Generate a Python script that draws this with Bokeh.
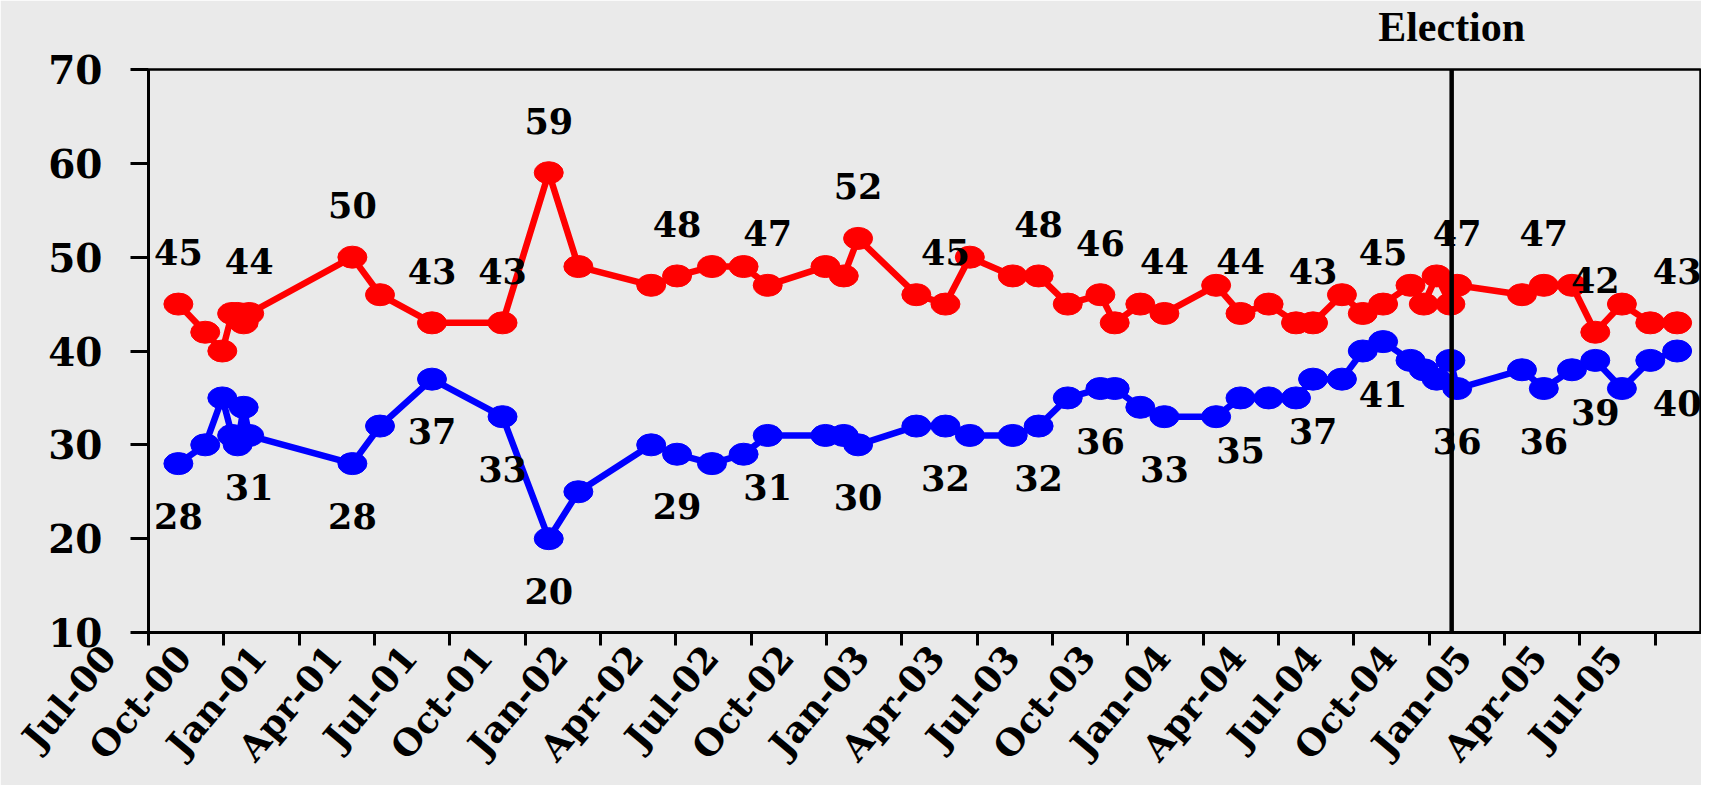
from bokeh.plotting import figure
from bokeh.models import Range1d, FixedTicker, Span, LinearAxis
from bokeh.core.properties import value
from bokeh.embed import file_html
from bokeh.resources import INLINE

# x values: months elapsed since 1 July 2000
months = [1.19, 2.26, 2.94, 3.33, 3.55, 3.79, 4.01, 8.12, 9.22, 11.29, 14.10, 15.94,
          17.12, 20.02, 21.05, 22.44, 23.70, 24.66, 26.96, 27.69, 28.26, 30.58, 31.74,
          32.71, 34.42, 35.45, 36.61, 37.91, 38.48, 39.50, 40.46, 42.52, 43.49, 44.61,
          45.70, 46.38, 47.53, 48.36, 49.17, 50.26, 50.79, 51.30, 51.85, 52.12, 54.70,
          55.57, 56.69, 57.62, 58.68, 59.81, 60.88]
red_values = [45, 42, 40, 44, 44, 43, 44, 50, 46, 43, 43, 59, 49, 47, 48, 49, 49, 47, 49,
              48, 52, 46, 45, 50, 48, 48, 45, 46, 43, 45, 44, 47, 44, 45, 43, 43, 46, 44,
              45, 47, 45, 48, 45, 47, 46, 47, 47, 42, 45, 43, 43]
blue_values = [28, 30, 35, 31, 30, 34, 31, 28, 32, 37, 33, 20, 25, 30, 29, 28, 29, 31, 31,
               31, 30, 32, 32, 31, 31, 32, 35, 36, 36, 34, 33, 33, 35, 35, 35, 37, 37, 40,
               41, 39, 38, 37, 39, 36, 38, 36, 38, 39, 36, 39, 40]
labelled_points = [0, 6, 7, 9, 10, 11, 14, 17, 20, 22, 25, 27, 30, 32, 35, 38, 43, 45, 47, 50]

tick_months = list(range(0, 61, 3))
tick_labels = ["Jul-00", "Oct-00", "Jan-01", "Apr-01", "Jul-01", "Oct-01", "Jan-02",
               "Apr-02", "Jul-02", "Oct-02", "Jan-03", "Apr-03", "Jul-03", "Oct-03",
               "Jan-04", "Apr-04", "Jul-04", "Oct-04", "Jan-05", "Apr-05", "Jul-05"]
y_ticks = [10, 20, 30, 40, 50, 60, 70]
election_month = 51.9
election_text = "Election"

BG = "#EAEAEA"
RED = "#FF0000"
BLUE = "#0000FF"
NUM_FONT = value("DejaVu Serif")
PAD = "\u00a0" * 5   # pushes the rotated tick labels down-left of their ticks

p = figure(width=1701, height=785, x_range=Range1d(0, 61.85), y_range=Range1d(10, 70),
           output_backend="svg", toolbar_location=None,
           min_border_left=148, min_border_right=0, min_border_top=68, min_border_bottom=152,
           background_fill_color=BG, border_fill_color=BG,
           outline_line_color="black", outline_line_width=2.5)
p.xgrid.visible = False
p.ygrid.visible = False

xa = p.below[0]
xa.ticker = FixedTicker(ticks=tick_months)
xa.major_label_overrides = {m: lab + PAD for m, lab in zip(tick_months, tick_labels)}
xa.major_label_orientation = 0.87
xa.major_label_standoff = -43
xa.major_label_text_font = "DejaVu Serif"
xa.major_label_text_font_style = "bold"
xa.major_label_text_font_size = "36px"
xa.major_label_text_color = "black"
xa.major_tick_out = 13
xa.major_tick_in = 0
xa.minor_tick_out = 0
xa.minor_tick_in = 0
xa.major_tick_line_width = 3
xa.axis_line_width = 3
xa.major_tick_line_color = "black"
xa.axis_line_color = "black"

ya = p.left[0]
ya.ticker = FixedTicker(ticks=y_ticks)
ya.major_tick_out = 18
ya.major_tick_in = 0
ya.minor_tick_out = 0
ya.minor_tick_in = 0
ya.major_tick_line_width = 3
ya.axis_line_width = 3
ya.major_tick_line_color = "black"
ya.axis_line_color = "black"
ya.major_label_standoff = 28
ya.major_label_text_font = "DejaVu Serif"
ya.major_label_text_font_style = "bold"
ya.major_label_text_font_size = "39px"
ya.major_label_text_color = "black"

# "Election" heading: a label-only axis above the frame, with one tick at the election
top_axis = LinearAxis(ticker=FixedTicker(ticks=[election_month]),
                      major_label_overrides={election_month: election_text},
                      axis_line_color=None, major_tick_line_color=None, minor_tick_line_color=None,
                      major_tick_out=0, major_tick_in=0, minor_tick_out=0, minor_tick_in=0,
                      major_label_standoff=20, major_label_text_font="Liberation Serif",
                      major_label_text_font_style="bold", major_label_text_font_size="42px",
                      major_label_text_color="black")
p.add_layout(top_axis, "above")

# series
p.line(months, red_values, line_color=RED, line_width=6.5)
p.ellipse(months, red_values, width=29, height=22, width_units="screen", height_units="screen",
          fill_color=RED, line_color=RED)
p.line(months, blue_values, line_color=BLUE, line_width=6.5)
p.ellipse(months, blue_values, width=29, height=22, width_units="screen", height_units="screen",
          fill_color=BLUE, line_color=BLUE)

# data labels
lx = [months[i] for i in labelled_points]
p.text(lx, [red_values[i] for i in labelled_points], text=[str(red_values[i]) for i in labelled_points],
       y_offset=-52, text_align="center", text_baseline="middle", text_font=NUM_FONT,
       text_font_style="bold", text_font_size="35px", text_color="black")
p.text(lx, [blue_values[i] for i in labelled_points], text=[str(blue_values[i]) for i in labelled_points],
       y_offset=52, text_align="center", text_baseline="middle", text_font=NUM_FONT,
       text_font_style="bold", text_font_size="35px", text_color="black")

# election marker
p.add_layout(Span(location=election_month, dimension="height", line_color="black", line_width=4.5))

open("out.html", "w").write(file_html(p, INLINE))
